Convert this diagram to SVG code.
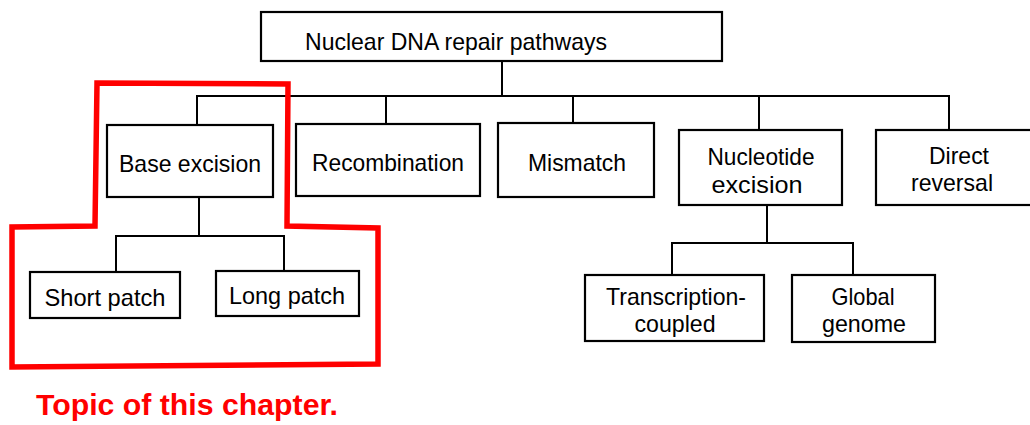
<svg xmlns="http://www.w3.org/2000/svg" width="1030" height="425" viewBox="0 0 1030 425">
<style>
.box{fill:#fff;stroke:#000;stroke-width:2.2}
.t{font-family:"Liberation Sans",Arial,sans-serif;font-size:24px;fill:#000;text-anchor:middle}
.c{fill:none;stroke:#000;stroke-width:2}
</style>
<rect width="1030" height="425" fill="#fff"/>
<g id="connectors">
<polyline class="c" points="502,61 502,96"/>
<polyline class="c" points="197,125 197,96 949,96 949,130"/>
<line class="c" x1="386" y1="96" x2="386" y2="124"/>
<line class="c" x1="573" y1="96" x2="573" y2="123"/>
<line class="c" x1="759" y1="96" x2="759" y2="130"/>
<polyline class="c" points="199,197 199,236"/>
<polyline class="c" points="116,272 116,236 284,236 284,271"/>
<polyline class="c" points="767,205 767,243"/>
<polyline class="c" points="672,275 672,243 853,243 853,275"/>
</g>
<g id="root"><rect class="box" x="261" y="12" width="461" height="49"/><text class="t" x="305" y="50" style="text-anchor:start" textLength="302" lengthAdjust="spacingAndGlyphs">Nuclear DNA repair pathways</text></g>
<g id="base-excision"><rect class="box" x="107" y="125" width="166" height="72"/><text class="t" x="190" y="172" textLength="142" lengthAdjust="spacingAndGlyphs">Base excision</text></g>
<g id="recombination"><rect class="box" x="296" y="124" width="184" height="72"/><text class="t" x="388" y="171" textLength="152" lengthAdjust="spacingAndGlyphs">Recombination</text></g>
<g id="mismatch"><rect class="box" x="498" y="123" width="156" height="74"/><text class="t" x="577" y="171" textLength="98" lengthAdjust="spacingAndGlyphs">Mismatch</text></g>
<g id="nucleotide-excision"><rect class="box" x="679" y="130" width="163" height="75"/><text class="t" x="761" y="165" textLength="107" lengthAdjust="spacingAndGlyphs">Nucleotide</text><text class="t" x="757" y="193" textLength="91" lengthAdjust="spacingAndGlyphs">excision</text></g>
<g id="direct-reversal"><rect class="box" x="876" y="130" width="160" height="75"/><text class="t" x="959" y="164" textLength="60" lengthAdjust="spacingAndGlyphs">Direct</text><text class="t" x="952" y="191" textLength="82" lengthAdjust="spacingAndGlyphs">reversal</text></g>
<g id="short-patch"><rect class="box" x="30" y="272" width="150" height="46"/><text class="t" x="105" y="306" textLength="121" lengthAdjust="spacingAndGlyphs">Short patch</text></g>
<g id="long-patch"><rect class="box" x="216" y="271" width="143" height="45"/><text class="t" x="287" y="304" textLength="116" lengthAdjust="spacingAndGlyphs">Long patch</text></g>
<g id="transcription-coupled"><rect class="box" x="585" y="275" width="179" height="66"/><text class="t" x="676" y="305" textLength="140" lengthAdjust="spacingAndGlyphs">Transcription-</text><text class="t" x="675" y="332" textLength="81" lengthAdjust="spacingAndGlyphs">coupled</text></g>
<g id="global-genome"><rect class="box" x="792" y="275" width="143" height="67"/><text class="t" x="863" y="305" textLength="63" lengthAdjust="spacingAndGlyphs">Global</text><text class="t" x="864" y="332" textLength="84" lengthAdjust="spacingAndGlyphs">genome</text></g>
<g id="highlight">
<polygon points="97,83 288,84 287,226 378,228 378,364 12,367 12,227 95,226" fill="none" stroke="#ff0000" stroke-width="5.5" stroke-linejoin="miter"/>
<text x="36" y="415" font-family="'Liberation Sans',Arial,sans-serif" font-weight="bold" font-size="30" fill="#ff0000" textLength="302" lengthAdjust="spacingAndGlyphs">Topic of this chapter.</text>
</g>
</svg>
